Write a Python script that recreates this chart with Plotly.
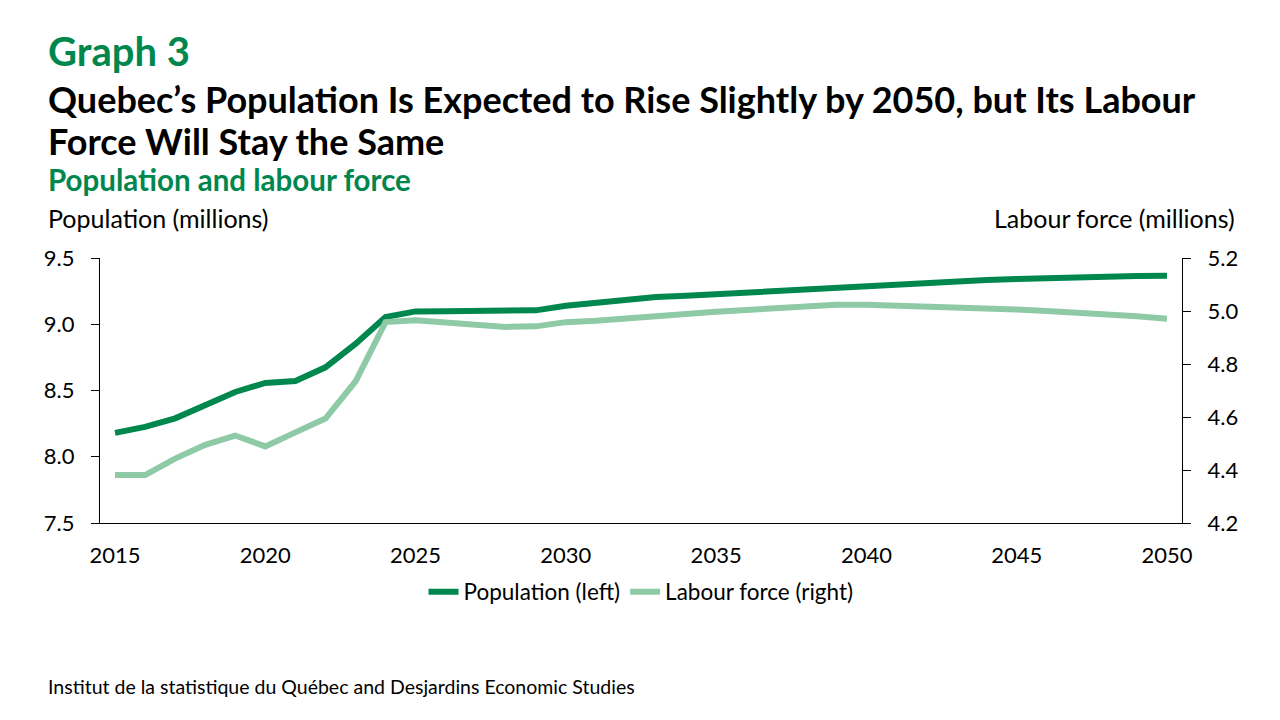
import plotly.graph_objects as go

years = list(range(2015, 2051))
population = [8.18, 8.225, 8.29, 8.388, 8.489, 8.557, 8.572, 8.675, 8.851, 9.055,
              9.097, 9.098, 9.098, 9.100, 9.105, 9.140, 9.163, 9.180, 9.205, 9.215,
              9.228, 9.240, 9.253, 9.266, 9.280, 9.292, 9.304, 9.316, 9.326, 9.334,
              9.341, 9.349, 9.358, 9.360, 9.364, 9.366]
labour_force = [4.381, 4.381, 4.443, 4.495, 4.530, 4.489, 4.542, 4.594, 4.734, 4.958,
                4.965, 4.955, 4.945, 4.940, 4.942, 4.958, 4.963, 4.970, 4.981, 4.989,
                4.997, 5.005, 5.012, 5.020, 5.024, 5.024, 5.021, 5.020, 5.017, 5.012,
                5.006, 5.000, 4.994, 4.989, 4.980, 4.971]

x_ticks = [2015, 2020, 2025, 2030, 2035, 2040, 2045, 2050]
left_ticks = [7.5, 8.0, 8.5, 9.0, 9.5]
right_ticks = [4.2, 4.4, 4.6, 4.8, 5.0, 5.2]

DARK = "#00874E"
LIGHT = "#8FCAA7"
FONT = "Lato"

# The page body adds an 8px margin; compensate so page pixels match the reference.
OFF = 8
W, H = 1280 - OFF, 720 - OFF
# plot area geometry (reference page pixels)
L, R, T, B = 100, 1182, 258, 523
def px(xp):
    return (xp - L) / (R - L)
def py(yp):
    return (B - yp) / (B - T)

fig = go.Figure()
fig.add_trace(go.Scatter(x=years, y=population, name="Population (left)",
                         mode="lines", line=dict(color=DARK, width=6), yaxis="y"))
fig.add_trace(go.Scatter(x=years, y=labour_force, name="Labour force (right)",
                         mode="lines", line=dict(color=LIGHT, width=6), yaxis="y2"))

XL = 46
ann = [
    dict(text="<b>Graph 3</b>", x=px(XL), y=py(51), font=dict(size=40, color=DARK)),
    dict(text="<b>Quebec’s Population Is Expected to Rise Slightly by 2050, but Its Labour</b>",
         x=px(XL), y=py(99), font=dict(size=36, color="black")),
    dict(text="<b>Force Will Stay the Same</b>", x=px(XL), y=py(141),
         font=dict(size=36, color="black")),
    dict(text="<b>Population and labour force</b>", x=px(XL), y=py(179),
         font=dict(size=29.5, color=DARK)),
    dict(text="Population (millions)", x=px(XL), y=py(218),
         font=dict(size=25, color="black")),
    dict(text="Labour force (millions)", x=px(1237), y=py(218), xanchor="right",
         font=dict(size=25, color="black")),
    dict(text="Institut de la statistique du Québec and Desjardins Economic Studies",
         x=px(XL), y=py(686), font=dict(size=19.5, color="black")),
]
annotations = []
for a in ann:
    d = dict(xref="paper", yref="paper", showarrow=False, xanchor="left", yanchor="middle")
    d.update(a)
    d["font"] = dict(family=FONT, **a["font"])
    annotations.append(d)

fig.update_layout(
    width=W, height=H,
    margin=dict(l=L - OFF, r=W - (R - OFF), t=T - OFF, b=H - (B - OFF), pad=0),
    paper_bgcolor="white", plot_bgcolor="white",
    font=dict(family=FONT, size=22, color="black"),
    showlegend=True,
    legend=dict(orientation="h", x=0.5, xanchor="center", y=py(592), yanchor="middle",
                font=dict(size=22.5, family=FONT, color="black"), itemwidth=30,
                tracegroupgap=0, bgcolor="rgba(0,0,0,0)"),
    xaxis=dict(range=[2014.5, 2050.5], tickvals=x_ticks, showgrid=False, zeroline=False,
               showline=True, linecolor="black", linewidth=1.2, ticks="",
               ticklabelstandoff=12, tickfont=dict(size=22)),
    yaxis=dict(range=[7.5, 9.5], tickvals=left_ticks, tickformat=".1f", showgrid=False,
               zeroline=False, showline=True, linecolor="black", linewidth=1.2,
               ticks="outside", ticklen=8, tickcolor="black", tickwidth=1.2,
               ticklabelstandoff=12, tickfont=dict(size=22)),
    yaxis2=dict(range=[4.2, 5.2], tickvals=right_ticks, tickformat=".1f", overlaying="y",
                side="right", showgrid=False, zeroline=False, showline=True,
                linecolor="black", linewidth=1.2, ticks="outside", ticklen=8,
                tickcolor="black", tickwidth=1.2, ticklabelstandoff=12,
                tickfont=dict(size=22)),
    annotations=annotations,
)

fig.write_html("out.html")
